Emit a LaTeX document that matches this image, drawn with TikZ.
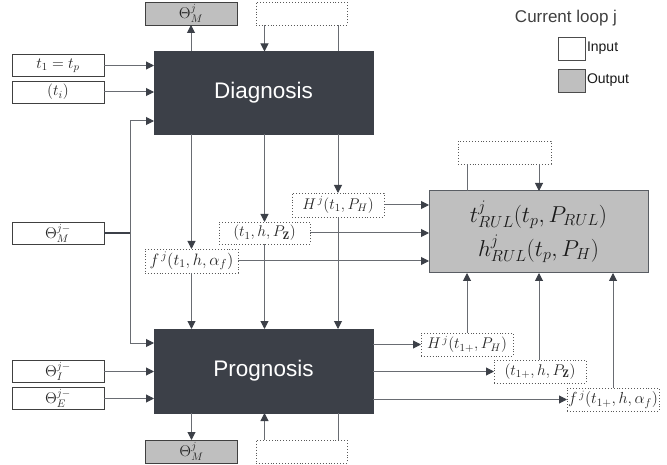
\RequirePackage{fix-cm}
\documentclass[tikz,border=0pt]{standalone}
\usepackage{fontspec}
\newfontfamily\sansf{Liberation Sans}
\usetikzlibrary{arrows.meta}
\definecolor{dbox}{RGB}{60,64,72}
\definecolor{gbox}{RGB}{191,191,191}
\definecolor{lnc}{RGB}{105,108,114}
\begin{document}
\begin{tikzpicture}[x=1pt,y=-1pt,
  every node/.style={inner sep=0pt,outer sep=0pt},
  bigbox/.style={draw=dbox,fill=dbox,text=white,font=\sansf\fontsize{22.5}{26}\selectfont,minimum width=219pt,minimum height=83pt},
  inbox/.style={draw=black!75,fill=white,line width=0.9pt,minimum width=92pt,minimum height=22pt,text=black!85,font=\fontsize{15.5}{17}\selectfont},
  outbox/.style={inbox,fill=gbox},
  dotbox/.style={draw=black!65,dotted,line width=0.9pt,minimum width=92pt,minimum height=23pt,text=black!85,font=\fontsize{15.5}{17}\selectfont},
  ln/.style={draw=lnc,line width=1pt},
  arr/.style={ln,-{Triangle[length=8pt,width=8pt,color=dbox]}},
  arrb/.style={ln,{Triangle[length=8pt,width=8pt,color=dbox]}-{Triangle[length=8pt,width=8pt,color=dbox]}},
  legtxt/.style={font=\sansf\fontsize{14}{16}\selectfont,text=black!90}
  ]
\useasboundingbox (0,0) rectangle (667,465);

% column and row helpers
\coordinate (cA) at (191.5,0);
\coordinate (cB) at (264.5,0);
\coordinate (cC) at (338,0);
\coordinate (cD) at (467,0);
\coordinate (cE) at (539,0);
\coordinate (cF) at (613,0);
\coordinate (cL) at (130,0);
\coordinate (rD) at (0,121);
\coordinate (rP) at (0,343);

% main blocks
\node[bigbox] (diag) at (263.5,93) {Diagnosis};
\node[bigbox,minimum height=84pt] (prog) at (263.5,371) {Prognosis};
\node[draw=dbox!85,fill=gbox,line width=1pt,minimum width=219pt,minimum height=82pt,align=center,text=black!90,font=\fontsize{23}{34}\selectfont] (rul) at (538.5,232) {$t^{j}_{RUL}(t_p,P_{RUL})$\\$h^{j}_{RUL}(t_p,P_H)$};

% left inputs
\node[inbox] (tin1) at (58,65.5) {$t_1=t_p$};
\node[inbox] (tin2) at (58,92) {$(t_i)$};
\node[inbox] (thM) at (58,233) {$\Theta^{j-}_{M}$};
\node[inbox] (thI) at (58,371.5) {$\Theta^{j-}_{I}$};
\node[inbox] (thE) at (58,398.5) {$\Theta^{j-}_{E}$};

% outputs and empty boxes
\node[outbox,minimum height=23pt] (thMtop) at (191,13.5) {$\Theta^{j}_{M}$};
\node[outbox,minimum height=23pt] (thMbot) at (191.5,451.5) {$\Theta^{j}_{M}$};
\node[dotbox,minimum width=91pt] (dtop) at (301.5,13.5) {};
\node[dotbox,minimum width=91pt] (dbot) at (301.5,451.5) {};
\node[dotbox,minimum width=93pt] (drul) at (504.5,152.5) {};

% intermediate labels
\node[dotbox,minimum width=93pt,minimum height=24pt,font=\fontsize{16.5}{18}\selectfont] (fD) at (191.5,261) {$f^{\,j}\bigl(t_1,h,\alpha_f\bigr)$};
\node[dotbox,minimum width=91pt,minimum height=22pt] (zD) at (264.5,233) {$(t_1,h,P_{\mathbf{Z}})$};
\node[dotbox,minimum height=24pt] (hD) at (338,205) {$H^{\,j}(t_1,P_H)$};
\node[dotbox] (hP) at (467,344.5) {$H^{\,j}(t_{1+},P_H)$};
\node[dotbox] (zP) at (540,371.5) {$(t_{1+},h,P_{\mathbf{Z}})$};
\node[dotbox,font=\fontsize{16}{18}\selectfont] (fP) at (613,399.5) {$f^{\,j}\bigl(t_{1+},h,\alpha_f\bigr)$};

% legend
\node[font=\sansf\fontsize{17}{20}\selectfont,text=black!75] (title) at (566,18) {Current loop j};
\node[draw=black!70,line width=0.9pt,fill=white,minimum width=27pt,minimum height=23pt] (lin) at (571.5,48.5) {};
\node[legtxt,anchor=west] (lintxt) at ([xshift=2pt]lin.east) {Input};
\node[draw=black!70,line width=0.9pt,fill=gbox,minimum width=27pt,minimum height=23pt] (lout) at (571.5,80.5) {};
\node[legtxt,anchor=west] (louttxt) at ([xshift=2pt]lout.east) {Output};

% diagnosis top
\draw[arr] (diag.north -| thMtop) -- (thMtop.south);
\draw[arr] (dtop.south -| cB) -- (diag.north -| cB);
\draw[ln] (diag.north -| cC) -- (dtop.south -| cC);

% left inputs to diagnosis
\draw[arr] (tin1.east) -- (tin1.east -| diag.west);
\draw[arr] (tin2.east) -- (tin2.east -| diag.west);
\draw[arrb] (diag.west |- rD) -- (cL |- rD) -- (cL |- rP) -- (prog.west |- rP);
\draw[draw=dbox,line width=1.3pt] (thM.east) -- (thM.east -| cL);

% diagnosis to labels to prognosis
\draw[arr] (diag.south -| cA) -- (fD.north);
\draw[arr] (fD.south) -- (prog.north -| cA);
\draw[arr] (diag.south -| cB) -- (zD.north);
\draw[arr] (zD.south) -- (prog.north -| cB);
\draw[arr] (diag.south -| cC) -- (hD.north);
\draw[arr] (hD.south) -- (prog.north -| cC);

% labels to RUL
\draw[arr] (hD.east) -- (hD.east -| rul.west);
\draw[arr] (zD.east) -- (zD.east -| rul.west);
\draw[arr] (fD.east) -- (fD.east -| rul.west);
\draw[ln] (rul.north -| cD) -- (drul.south -| cD);
\draw[arr] (drul.south -| cE) -- (rul.north -| cE);

% prognosis outputs
\draw[arr] (prog.east |- hP) -- (hP.west);
\draw[arr] (prog.east |- zP) -- (zP.west);
\draw[arr] (prog.east |- fP) -- (fP.west);
\draw[arr] (hP.north) -- (rul.south -| hP);
\draw[arr] (zP.north -| cE) -- (rul.south -| cE);
\draw[arr] (fP.north) -- (rul.south -| fP);

% left inputs to prognosis
\draw[arr] (thI.east) -- (thI.east -| prog.west);
\draw[arr] (thE.east) -- (thE.east -| prog.west);

% prognosis bottom
\draw[arr] (prog.south -| thMbot) -- (thMbot.north);
\draw[arr] (dbot.north -| cB) -- (prog.south -| cB);
\draw[ln] (prog.south -| cC) -- (dbot.north -| cC);
\end{tikzpicture}
\end{document}
